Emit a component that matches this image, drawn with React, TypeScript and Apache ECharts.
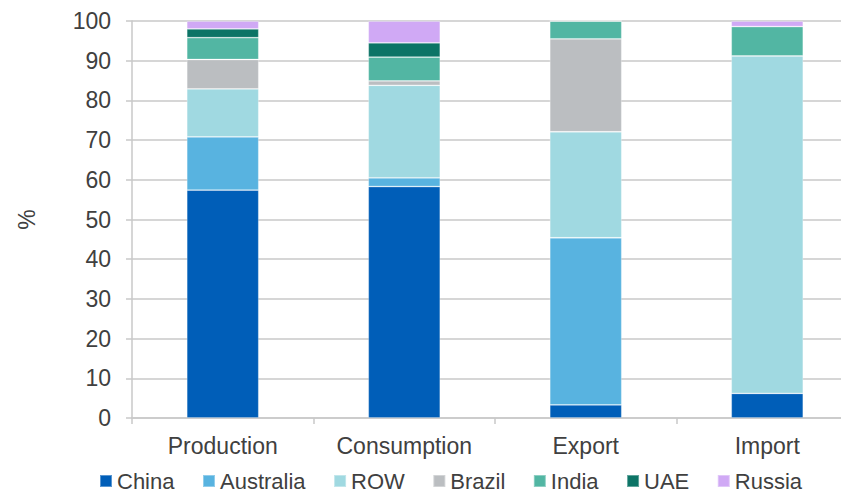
import React, { useEffect, useRef } from "react";
import * as echarts from "echarts";

// Share of each country in the aluminium flows, in percent
const categories = ["Production", "Consumption", "Export", "Import"];
const seriesNames = ["China", "Australia", "ROW", "Brazil", "India", "UAE", "Russia"];
const china = [57.4, 58.3, 3.3, 6.2];
const australia = [13.4, 2.2, 42.1, 0];
const row = [12.1, 23.3, 26.7, 85.0];
const brazil = [7.4, 1.1, 23.4, 0];
const india = [5.5, 6.0, 4.5, 7.4];
const uae = [2.2, 3.6, 0, 0];
const russia = [2.0, 5.5, 0, 1.4];
const yTicks = [0, 10, 20, 30, 40, 50, 60, 70, 80, 90, 100];

const colors = ["#005EB8", "#58B3E0", "#A0D9E1", "#BBBEC1", "#52B6A3", "#0C7466", "#D0A9F5"];
const values = [china, australia, row, brazil, india, uae, russia];

const FONT = "'Liberation Sans', Arial, sans-serif";
const TEXT = "#404040";
const GRID = "#C9C9C9";

// The plot runs a little past the right edge of the visible frame
const CANVAS_W = 860;

export default function App() {
  const ref = useRef<HTMLDivElement>(null);

  useEffect(() => {
    if (!ref.current) return;
    const chart = echarts.init(ref.current, undefined, { renderer: "svg" });
    chart.setOption({
      animation: false,
      backgroundColor: "#ffffff",
      textStyle: { fontFamily: FONT },
      grid: { left: 132, top: 21, bottom: 74, right: CANVAS_W - 132 - 726, containLabel: false },
      legend: {
        left: 94,
        top: 465,
        itemWidth: 12,
        itemHeight: 12,
        itemGap: 27.5,
        icon: "rect",
        data: seriesNames,
        textStyle: { fontFamily: FONT, fontSize: 22, lineHeight: 18, color: TEXT },
      },
      xAxis: {
        type: "category",
        data: categories,
        axisLine: { show: true, lineStyle: { color: GRID, width: 1.5 } },
        axisTick: { show: true, length: 6, alignWithLabel: false, lineStyle: { color: GRID, width: 1.5 } },
        axisLabel: { fontFamily: FONT, fontSize: 23, color: TEXT, margin: 16 },
      },
      yAxis: {
        type: "value",
        min: yTicks[0],
        max: yTicks[yTicks.length - 1],
        interval: 10,
        name: "%",
        nameLocation: "middle",
        nameGap: 94,
        nameRotate: 90,
        nameTextStyle: { fontFamily: FONT, fontSize: 23, color: TEXT },
        axisLine: { show: true, lineStyle: { color: GRID, width: 1.5 } },
        axisTick: { show: true, length: 6, inside: false, lineStyle: { color: GRID, width: 1.5 } },
        splitLine: { show: true, lineStyle: { color: GRID, width: 1.5 } },
        axisLabel: { fontFamily: FONT, fontSize: 23, color: TEXT, margin: 21 },
      },
      series: seriesNames.map((name, i) => ({
        name,
        type: "bar",
        stack: "total",
        barWidth: 72,
        data: values[i],
        itemStyle: { color: colors[i], borderColor: "rgba(255,255,255,0.35)", borderWidth: 0.8 },
      })),
    });
    return () => chart.dispose();
  }, []);

  return (
    <div style={{ width: 841, height: 492, position: "absolute", left: 0, top: 0, overflow: "hidden" }}>
      <div ref={ref} style={{ width: CANVAS_W, height: 492 }} />
    </div>
  );
}
